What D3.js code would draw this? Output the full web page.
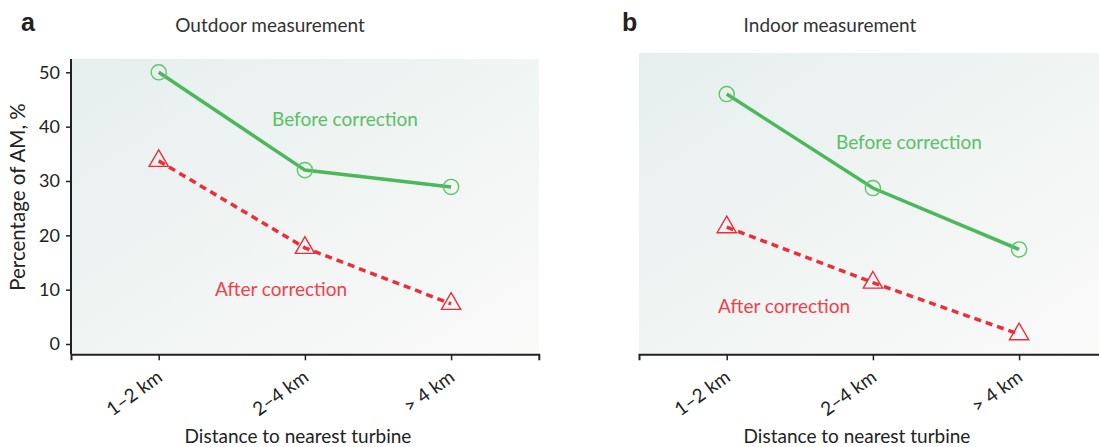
<!DOCTYPE html>
<html lang="en">
<head>
<meta charset="utf-8">
<title>AM percentage by distance to turbine</title>
<script src="https://d3js.org/d3.v7.min.js"></script>
<style>
  body { margin: 0; background: #fff; }
  svg { display: block; font-family: Lato, "Open Sans", sans-serif; }
</style>
</head>
<body>
<div id="chart"></div>
<script>
// data
const categories = ["1\u20132 km", "2\u20134 km", "> 4 km"];
const outdoorBefore = [50, 32.0, 28.9];
const outdoorAfter = [33.7, 17.7, 7.4];
const indoorBefore = [46.0, 28.7, 17.4];
const indoorAfter = [21.5, 11.3, 1.8];
const yTicks = [0, 10, 20, 30, 40, 50];

const width = 1099, height = 447;
const green = "#4bb85a", red = "#ee2d3a";

const svg = d3.select("#chart").append("svg")
  .attr("width", width)
  .attr("height", height);

// diagonal background fill
const grad = svg.append("defs").append("linearGradient")
  .attr("id", "bg").attr("x1", 0).attr("y1", 0).attr("x2", 1).attr("y2", 1);
grad.append("stop").attr("offset", 0).attr("stop-color", "#e6efee");
grad.append("stop").attr("offset", 1).attr("stop-color", "#fafaf9");

const y = d3.scaleLinear().domain([0, 50]).range([344, 72.3]);
const axisY = 354.3;

function panel(opt) {
  const g = svg.append("g");
  const x = d3.scalePoint().domain(categories).range([opt.left, opt.left + 467.8]).padding(0.6);

  g.append("rect")
    .attr("x", opt.left).attr("y", opt.bgTop)
    .attr("width", 467.8).attr("height", axisY - opt.bgTop)
    .attr("fill", "url(#bg)");

  // x axis
  const xa = g.append("g")
    .attr("transform", `translate(0,${axisY})`)
    .call(d3.axisBottom(x).tickSize(6).tickFormat(""));
  xa.select(".domain").attr("stroke", "#222").attr("stroke-width", 2);
  xa.selectAll(".tick line").attr("stroke", "#222").attr("stroke-width", 1.5);

  g.selectAll(".xlab").data(categories).join("text")
    .attr("class", "xlab")
    .attr("text-anchor", "end")
    .attr("transform", d => `translate(${x(d) + 1},${axisY + 20}) rotate(-36)`)
    .attr("dy", "0.35em")
    .attr("font-size", 19)
    .attr("fill", "#222")
    .text(d => d);

  if (opt.yAxis) {
    const ya = g.append("g")
      .attr("transform", `translate(${opt.left},0)`)
      .call(d3.axisLeft(y).tickValues(yTicks).tickSize(5).tickPadding(6));
    ya.select(".domain").attr("d", `M0,${opt.bgTop}V${axisY}`).attr("stroke", "#222").attr("stroke-width", 2);
    ya.selectAll(".tick line").attr("stroke", "#222").attr("stroke-width", 1.5);
    ya.selectAll(".tick text").attr("font-size", 18).attr("fill", "#222")
      .attr("font-family", "Lato, sans-serif");

    g.append("text")
      .attr("transform", `translate(25,197) rotate(-90)`)
      .attr("text-anchor", "middle")
      .attr("font-size", 20.5)
      .attr("fill", "#222")
      .text("Percentage of AM, %");
  }

  // lines
  const line = d3.line().x((d, i) => x(categories[i])).y(d => y(d));
  g.append("path").datum(opt.before)
    .attr("d", line).attr("fill", "none")
    .attr("stroke", green).attr("stroke-width", 3.5);
  g.append("path").datum(opt.after)
    .attr("d", line).attr("fill", "none")
    .attr("stroke", red).attr("stroke-width", 3.5)
    .attr("stroke-dasharray", "7,5");

  g.selectAll(".cmark").data(opt.before).join("circle")
    .attr("cx", (d, i) => x(categories[i])).attr("cy", d => y(d))
    .attr("r", 7.6).attr("fill", "none")
    .attr("stroke", "#5cc56a").attr("stroke-width", 1.4);
  g.selectAll(".tmark").data(opt.after).join("path")
    .attr("transform", (d, i) => `translate(${x(categories[i])},${y(d)})`)
    .attr("d", d3.symbol().type(d3.symbolTriangle).size(160))
    .attr("fill", "none")
    .attr("stroke", red).attr("stroke-width", 1.4);

  // labels
  g.append("text").attr("x", opt.titleX).attr("y", 32)
    .attr("text-anchor", "middle").attr("font-size", 19).attr("fill", "#333")
    .text(opt.title);
  g.append("text").attr("x", opt.letterX).attr("y", 31)
    .attr("font-family", "'Liberation Sans', Arial, sans-serif")
    .attr("font-weight", "bold").attr("font-size", 25).attr("fill", "#222")
    .text(opt.letter);
  g.append("text").attr("x", opt.beforeLab[0]).attr("y", opt.beforeLab[1])
    .attr("font-size", 19).attr("fill", "#57c164")
    .text("Before correction");
  g.append("text").attr("x", opt.afterLab[0]).attr("y", opt.afterLab[1])
    .attr("font-size", 19).attr("fill", "#f0404a")
    .text("After correction");
  g.append("text").attr("x", opt.xTitleX).attr("y", 443)
    .attr("text-anchor", "middle").attr("font-size", 19).attr("fill", "#222")
    .text("Distance to nearest turbine");
}

panel({
  left: 71, bgTop: 59, yAxis: true,
  before: outdoorBefore, after: outdoorAfter,
  title: "Outdoor measurement", titleX: 270, letter: "a", letterX: 21,
  beforeLab: [272, 126], afterLab: [215, 296], xTitleX: 298
});
panel({
  left: 639, bgTop: 53, yAxis: false,
  before: indoorBefore, after: indoorAfter,
  title: "Indoor measurement", titleX: 830, letter: "b", letterX: 622,
  beforeLab: [836, 149], afterLab: [718, 313], xTitleX: 857
});
</script>
</body>
</html>
